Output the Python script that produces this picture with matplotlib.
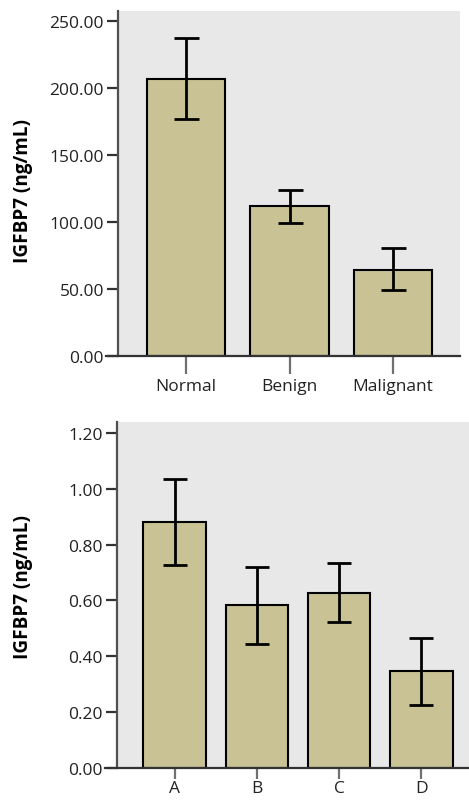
import numpy as np
import matplotlib
matplotlib.use('Agg')
import matplotlib.pyplot as plt

plt.rcParams['font.family'] = ['Open Sans', 'DejaVu Sans']

# top panel: groups
groups1 = ['Normal', 'Benign', 'Malignant']
means1 = [207.0, 112.0, 64.5]
upper1 = [237.4, 124.3, 80.5]
lower1 = [176.6, 99.4, 49.6]
yticks1 = [0, 50, 100, 150, 200, 250]

# bottom panel: stages
groups2 = ['A', 'B', 'C', 'D']
means2 = [0.880, 0.584, 0.628, 0.346]
upper2 = [1.035, 0.719, 0.734, 0.467]
lower2 = [0.727, 0.443, 0.522, 0.227]
yticks2 = [0.0, 0.2, 0.4, 0.6, 0.8, 1.0, 1.2]

W, H = 469, 804
fig = plt.figure(figsize=(W / 100, H / 100), dpi=100)

bar_color = '#c9c295'
bg_color = '#e8e8e8'
spine_color = '#505050'


def px_axes(left, top, right, bottom):
    return fig.add_axes([left / W, 1 - bottom / H, (right - left) / W, (bottom - top) / H])


def draw_panel(ax, labels, means, upper, lower, yticks, ylim, xlim, fmt, capsize,
               xtick_len=13, xtick_pad=3):
    x = np.arange(len(labels))
    m = np.array(means)
    err = [m - np.array(lower), np.array(upper) - m]
    ax.set_facecolor(bg_color)
    ax.bar(x, m, width=0.76, color=bar_color, edgecolor='black', linewidth=1.5, zorder=2)
    ax.errorbar(x, m, yerr=err, fmt='none', ecolor='black', elinewidth=2,
                capsize=capsize, capthick=2, zorder=3)
    ax.set_xlim(*xlim)
    ax.set_ylim(*ylim)
    ax.set_xticks(x)
    ax.set_xticklabels(labels, fontsize=12.5, color='#222222')
    ax.set_yticks(yticks)
    ax.set_yticklabels([fmt.format(v) for v in yticks], fontsize=12.5, color='#222222')
    for s in ['top', 'right', 'bottom']:
        ax.spines[s].set_visible(False)
    ax.spines['left'].set_color(spine_color)
    ax.spines['left'].set_linewidth(1.6)
    ax.tick_params(axis='y', length=8, width=1.6, color='#333333', pad=2)
    ax.tick_params(axis='x', length=xtick_len, width=1.6, color='#707070', pad=xtick_pad)
    # baseline that runs a bit past the y axis
    ax.plot([-0.035, 1.0], [0, 0], transform=ax.transAxes, color='#333333',
            linewidth=1.6, clip_on=False, zorder=4)
    ax.set_ylabel('IGFBP7 (ng/mL)', fontsize=13.6, fontweight='bold')


ax1 = px_axes(118, 12, 460, 357)
draw_panel(ax1, groups1, means1, upper1, lower1, yticks1, (0, 257.6),
           (-0.66, 2.65), '{:.2f}', 9)
ax1.yaxis.set_label_coords(-0.249, 0.481)

ax2 = px_axes(117, 423, 469, 769)
draw_panel(ax2, groups2, means2, upper2, lower2, yticks2, (0, 1.239),
           (-0.70, 3.58), '{:.2f}', 8.5, xtick_len=8, xtick_pad=1)
ax2.yaxis.set_label_coords(-0.239, 0.526)

fig.savefig('out.png', dpi=100, facecolor='white')
